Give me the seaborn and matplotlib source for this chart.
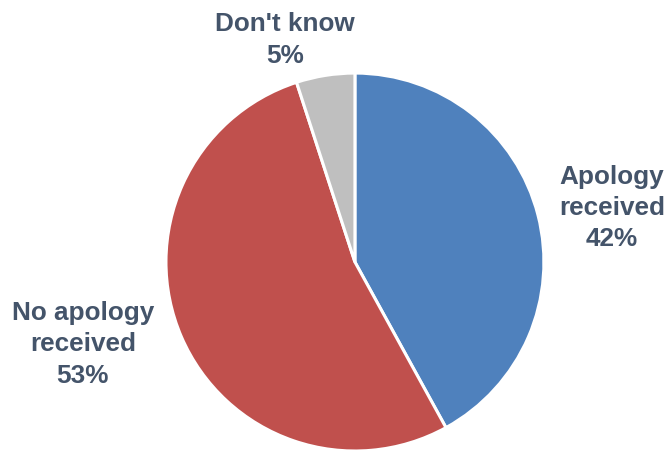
import matplotlib
matplotlib.use("Agg")
import matplotlib.pyplot as plt
import seaborn as sns

# Survey responses
categories = ["Apology\nreceived", "No apology\nreceived", "Don't know"]
shares = [42, 53, 5]
colors = ["#4F81BD", "#C0504D", "#BFBFBF"]

sns.set_theme(style="white")
plt.rcParams["font.family"] = ["Liberation Sans", "DejaVu Sans"]

fig = plt.figure(figsize=(6.70, 4.52), dpi=100)
ax = fig.add_axes([0, 0, 1, 1])

wedges, _ = ax.pie(
    shares,
    colors=colors,
    startangle=90,
    counterclock=False,
    wedgeprops=dict(edgecolor="white", linewidth=2.2),
)

ax.set_xlim(-1.878, 1.667)
ax.set_ylim(-1.0, 1.392)
ax.set_aspect("equal", adjustable="box")
ax.axis("off")

# Label anchors, in units of the pie radius
label_xy = [(1.36, 0.29), (-1.44, -0.43), (-0.37, 1.18)]
text_color = "#44546A"
for name, val, (x, y) in zip(categories, shares, label_xy):
    ax.text(x, y, f"{name}\n{val}%", ha="center", va="center",
            fontsize=18.8, fontweight="bold", color=text_color,
            linespacing=1.38)

fig.savefig("out.png", dpi=100)
